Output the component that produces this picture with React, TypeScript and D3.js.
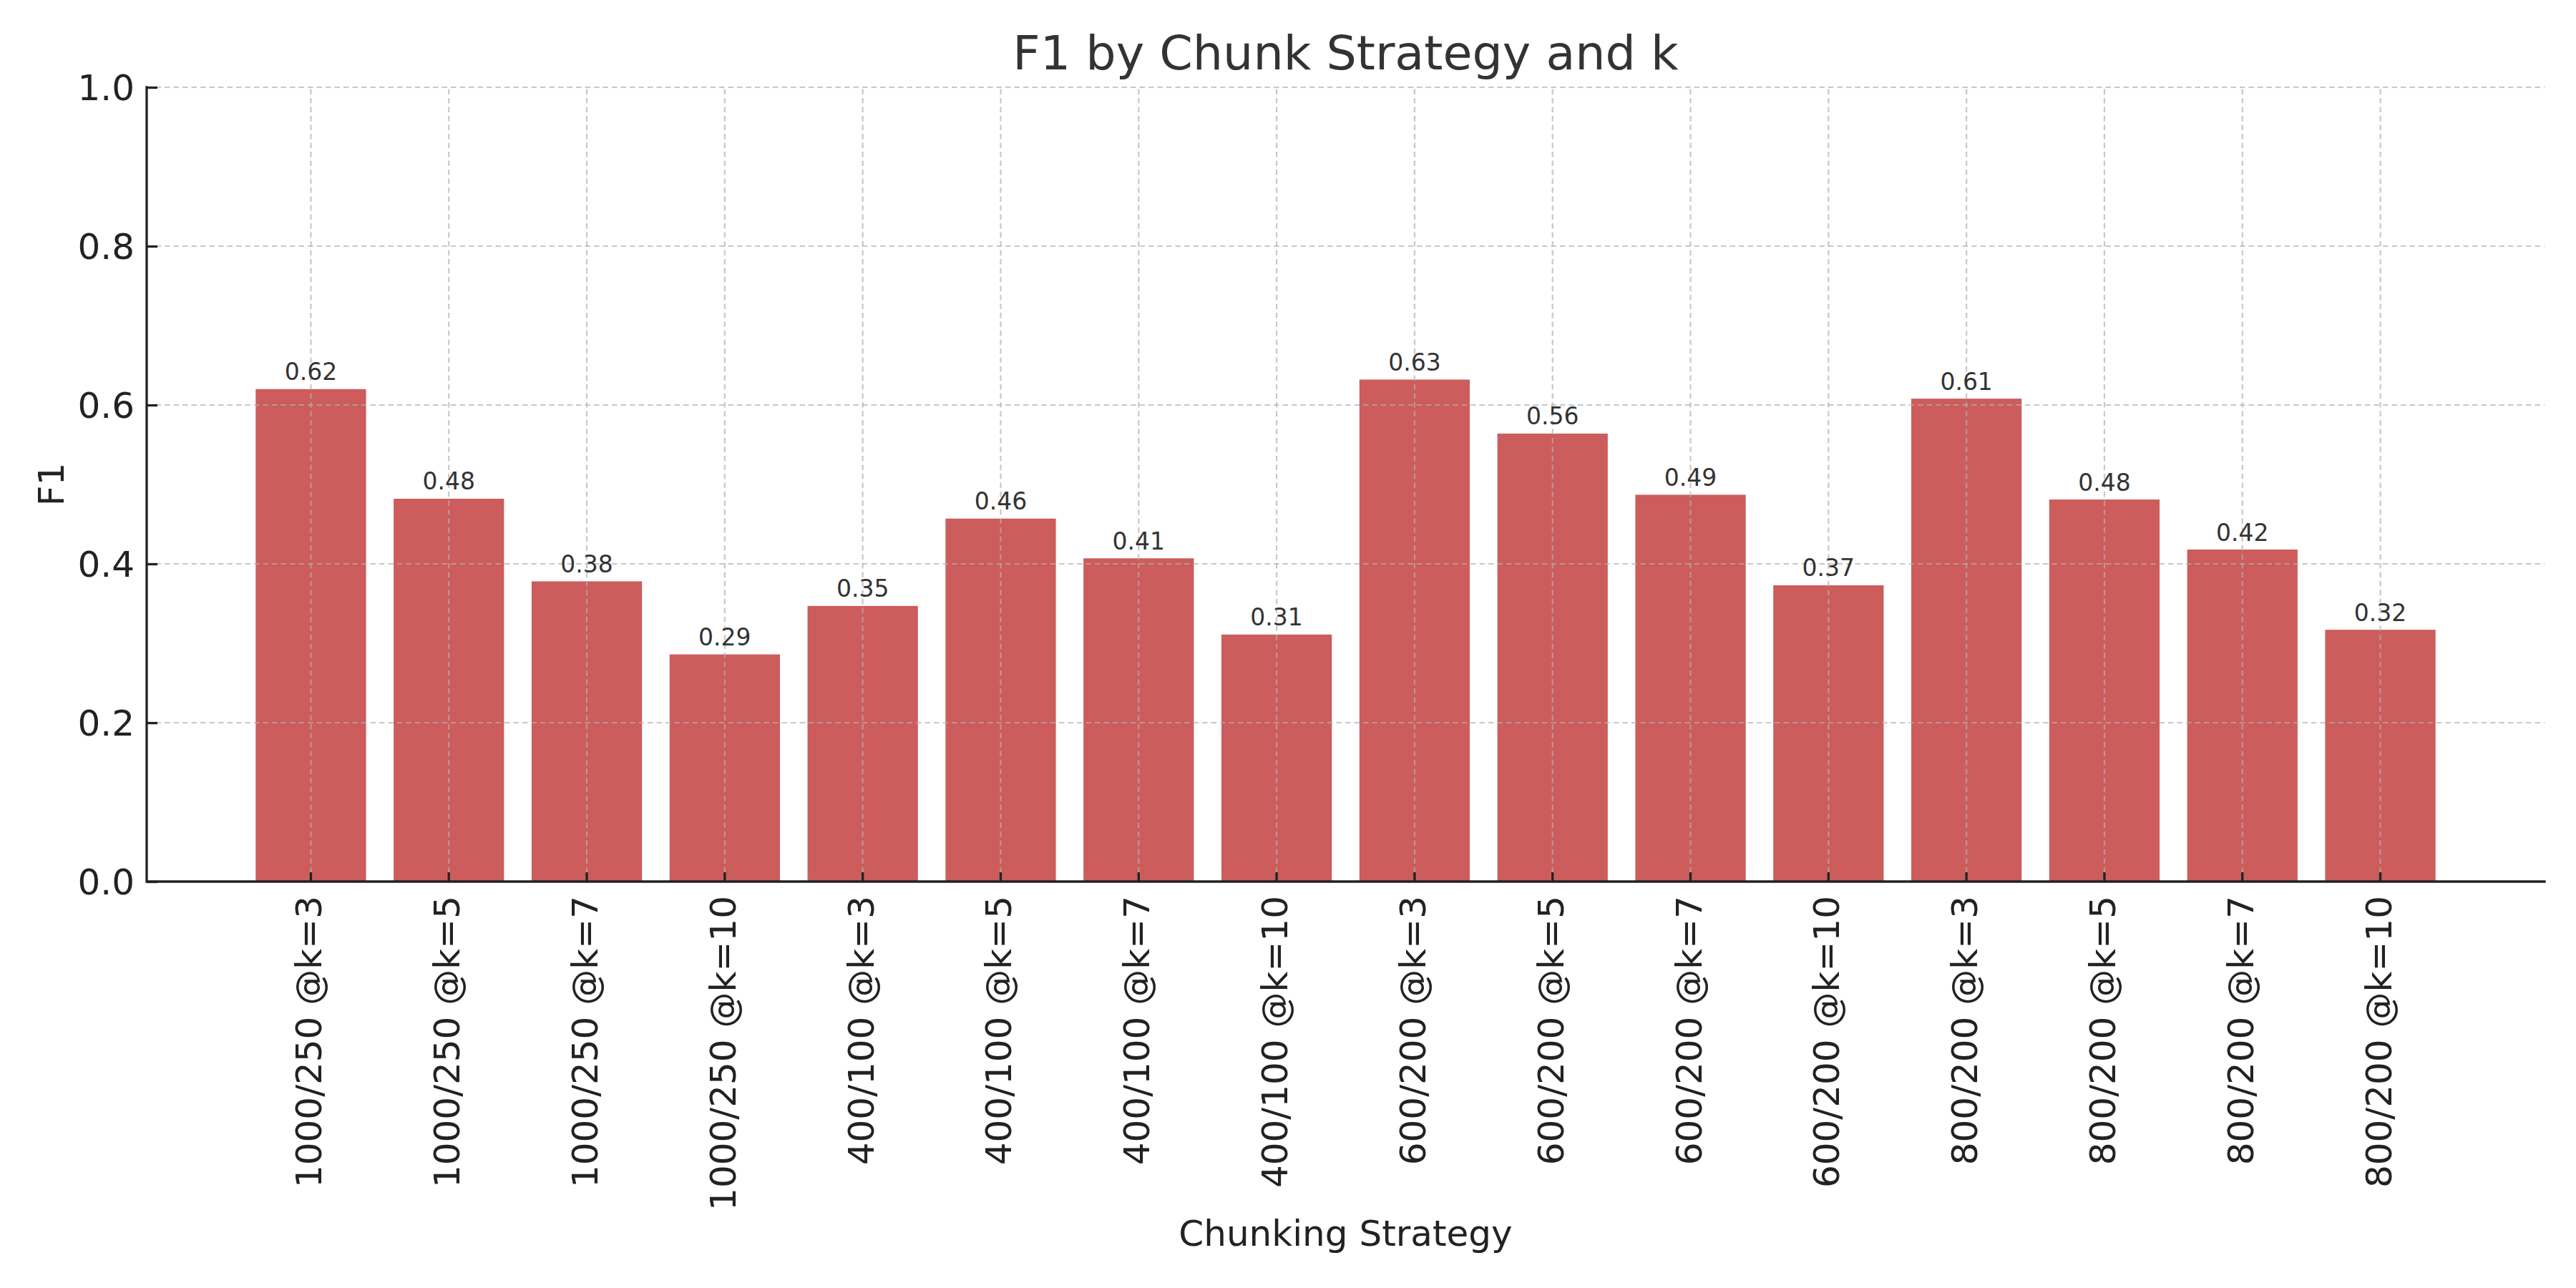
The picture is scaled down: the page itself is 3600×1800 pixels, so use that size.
import React, { useEffect, useRef } from "react";
import * as d3 from "d3";

const categories = [
    "1000/250 @k=3",
    "1000/250 @k=5",
    "1000/250 @k=7",
    "1000/250 @k=10",
    "400/100 @k=3",
    "400/100 @k=5",
    "400/100 @k=7",
    "400/100 @k=10",
    "600/200 @k=3",
    "600/200 @k=5",
    "600/200 @k=7",
    "600/200 @k=10",
    "800/200 @k=3",
    "800/200 @k=5",
    "800/200 @k=7",
    "800/200 @k=10",
];

const f1Values = [
    0.620, 0.482, 0.378, 0.286,
    0.347, 0.457, 0.407, 0.311,
    0.632, 0.564, 0.487, 0.373,
    0.608, 0.481, 0.418, 0.317,
];

const yTickValues = [0, 0.2, 0.4, 0.6, 0.8, 1.0];

const FONT = "'DejaVu Sans', sans-serif";

export const App: React.FC = () => {
    const svgRef: any = useRef(null);

    useEffect(() => {
        document.body.style.margin = "0";

        const width = 3600;
        const height = 1800;
        const margin = { top: 122, right: 44, bottom: 568, left: 205 };

        const svg = d3.select(svgRef.current);
        svg.selectAll("*").remove();

        // scales
        const x = d3
            .scaleBand()
            .domain(categories)
            .range([margin.left, width - margin.right])
            .paddingInner(0.2)
            .paddingOuter(0.79);

        const y = d3
            .scaleLinear()
            .domain([0, 1])
            .range([height - margin.bottom, margin.top]);

        const data = categories.map((c, i) => ({ c, v: f1Values[i] }));

        // bars
        svg
            .append("g")
            .selectAll("rect")
            .data(data)
            .join("rect")
            .attr("x", (d: any) => x(d.c))
            .attr("y", (d: any) => y(d.v))
            .attr("width", x.bandwidth())
            .attr("height", (d: any) => y(0) - y(d.v))
            .attr("fill", "#cd5c5c");

        // grid on top of bars
        const grid = svg
            .append("g")
            .attr("stroke", "#b0b0b0")
            .attr("stroke-opacity", 0.7)
            .attr("stroke-width", 2.2)
            .attr("stroke-dasharray", "7.5,5");

        grid
            .selectAll("line.h")
            .data(yTickValues)
            .join("line")
            .attr("class", "h")
            .attr("x1", margin.left)
            .attr("x2", width - margin.right)
            .attr("y1", (d) => y(d))
            .attr("y2", (d) => y(d));

        grid
            .selectAll("line.v")
            .data(categories)
            .join("line")
            .attr("class", "v")
            .attr("x1", (d) => x(d)! + x.bandwidth() / 2)
            .attr("x2", (d) => x(d)! + x.bandwidth() / 2)
            .attr("y1", y(0))
            .attr("y2", y(1));

        // axes
        const yAxis = d3
            .axisLeft(y)
            .tickValues(yTickValues)
            .tickSize(-15)
            .tickPadding(17)
            .tickFormat(d3.format(".1f") as any);

        const gy = svg
            .append("g")
            .attr("transform", `translate(${margin.left},0)`)
            .call(yAxis);

        gy.select(".domain").remove();
        gy.selectAll(".tick line").attr("stroke", "#222").attr("stroke-width", 3.3);
        gy.selectAll(".tick text")
            .attr("font-family", FONT)
            .attr("font-size", 50)
            .attr("fill", "#222")
            .attr("dy", "0.35em");

        const xAxis = d3.axisBottom(x).tickSize(-13);

        const gx = svg
            .append("g")
            .attr("transform", `translate(0,${y(0)})`)
            .call(xAxis);

        gx.select(".domain").remove();
        gx.selectAll(".tick line").attr("stroke", "#222").attr("stroke-width", 3.3);
        gx.selectAll(".tick text")
            .attr("font-family", FONT)
            .attr("font-size", 50)
            .attr("fill", "#222")
            .attr("transform", "rotate(-90)")
            .attr("text-anchor", "end")
            .attr("x", -20)
            .attr("y", 0)
            .attr("dy", "0.3em");

        // spines (left and bottom only)
        svg
            .append("path")
            .attr("d", `M${margin.left},${y(1)}V${y(0)}H${width - margin.right}`)
            .attr("fill", "none")
            .attr("stroke", "#222")
            .attr("stroke-width", 3.3)
            .attr("stroke-linecap", "square");

        // value labels
        svg
            .append("g")
            .selectAll("text")
            .data(data)
            .join("text")
            .attr("x", (d: any) => x(d.c)! + x.bandwidth() / 2)
            .attr("y", (d: any) => y(d.v) - 12.5)
            .attr("text-anchor", "middle")
            .attr("font-family", FONT)
            .attr("font-size", 33)
            .attr("fill", "#333")
            .text((d: any) => d3.format(".2f")(d.v));

        // title + labels
        const cx = (margin.left + width - margin.right) / 2;

        svg
            .append("text")
            .attr("x", cx)
            .attr("y", 97)
            .attr("text-anchor", "middle")
            .attr("font-family", FONT)
            .attr("font-size", 66.7)
            .attr("fill", "#333")
            .text("F1 by Chunk Strategy and k");

        svg
            .append("text")
            .attr("x", cx)
            .attr("y", 1741)
            .attr("text-anchor", "middle")
            .attr("font-family", FONT)
            .attr("font-size", 50)
            .attr("fill", "#222")
            .text("Chunking Strategy");

        svg
            .append("text")
            .attr("transform", `translate(89,${(y(0) + y(1)) / 2}) rotate(-90)`)
            .attr("text-anchor", "middle")
            .attr("font-family", FONT)
            .attr("font-size", 50)
            .attr("fill", "#222")
            .text("F1");
    }, []);

    return (
        <svg
            ref={svgRef}
            width={3600}
            height={1800}
            style={{ display: "block", background: "#fff" }}
        ></svg>
    );
};

export default App;
